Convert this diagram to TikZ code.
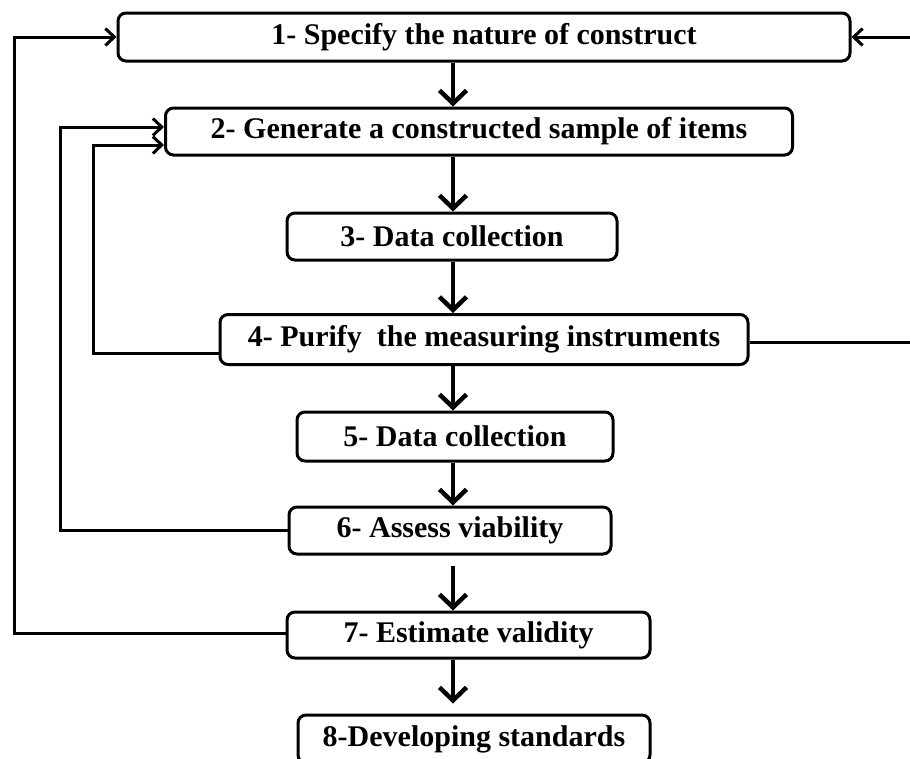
\documentclass[tikz,border=0pt]{standalone}
\usepackage{fontspec}
\setmainfont{Liberation Serif}
\usetikzlibrary{arrows.meta,calc}

\begin{document}
\begin{tikzpicture}[x=1pt,y=-1pt,
    stage/.style={draw, line width=3pt, rounded corners=8pt, inner sep=0pt,
      font=\fontsize{30}{36}\selectfont\bfseries},
    down/.style={line width=4.5pt, -{Straight Barb[length=13pt,width=27pt]}},
    back/.style={line width=3pt, -{Straight Barb[length=9pt,width=17pt]}}]
    \useasboundingbox (0,0) rectangle (910,758);

    % Stages
    \node[stage, minimum width=732pt, minimum height=48pt] (s1) at (484,37) {1- Specify the nature of construct};
    \node[stage, minimum width=627pt, minimum height=47pt] (s2) at (479,131.5) {2- Generate a constructed sample of items};
    \node[stage, minimum width=330pt, minimum height=47pt] (s3) at (452,236.5) {3- Data collection};
    \node[stage, minimum width=528pt, minimum height=50pt] (s4) at (484,339.5) {4- Purify\ \ the measuring instruments};
    \node[stage, minimum width=316pt, minimum height=49pt] (s5) at (455,436.5) {5- Data collection};
    \node[stage, minimum width=322pt, minimum height=47pt] (s6) at (450,530.5) {6- Assess viability};
    \node[stage, minimum width=363pt, minimum height=46pt] (s7) at (468.5,635) {7- Estimate validity};
    \node[stage, minimum width=352pt, minimum height=48pt] (s8) at (474,739) {8-Developing standards};

    % Main flow
    \coordinate (col) at (453,0);
    \draw[down] (s1.south -| col) -- (s2.north -| col);
    \draw[down] (s2.south -| col) -- (s3.north -| col);
    \draw[down] (s3.south -| col) -- (s4.north -| col);
    \draw[down] (s4.south -| col) -- (s5.north -| col);
    \draw[down] (s5.south -| col) -- (s6.north -| col);
    \draw[down, shorten <=10pt] (s6.south -| col) -- (s7.north -| col);
    \draw[down, shorten >=10pt] (s7.south -| col) -- (s8.north -| col);

    % Feedback loops
    \coordinate (far) at (14,0);
    \coordinate (mid) at (60,0);
    \coordinate (near) at (93,0);
    \coordinate (edge) at (914,0);
    \draw[back] ([yshift=2pt]s7.west) -- ([yshift=2pt]s7.west -| far) |- (s1.west);
    \draw[back] (s6.west) -- (s6.west -| mid) |- ([yshift=4.5pt]s2.west);
    \draw[back] ([yshift=-13.5pt]s4.west) -- ([yshift=-13.5pt]s4.west -| near) |- ([yshift=-13.5pt]s2.west);
    \draw[back] ([yshift=-2.5pt]s4.east) -- ([yshift=-2.5pt]s4.east -| edge) |- (s1.east);
\end{tikzpicture}
\end{document}
